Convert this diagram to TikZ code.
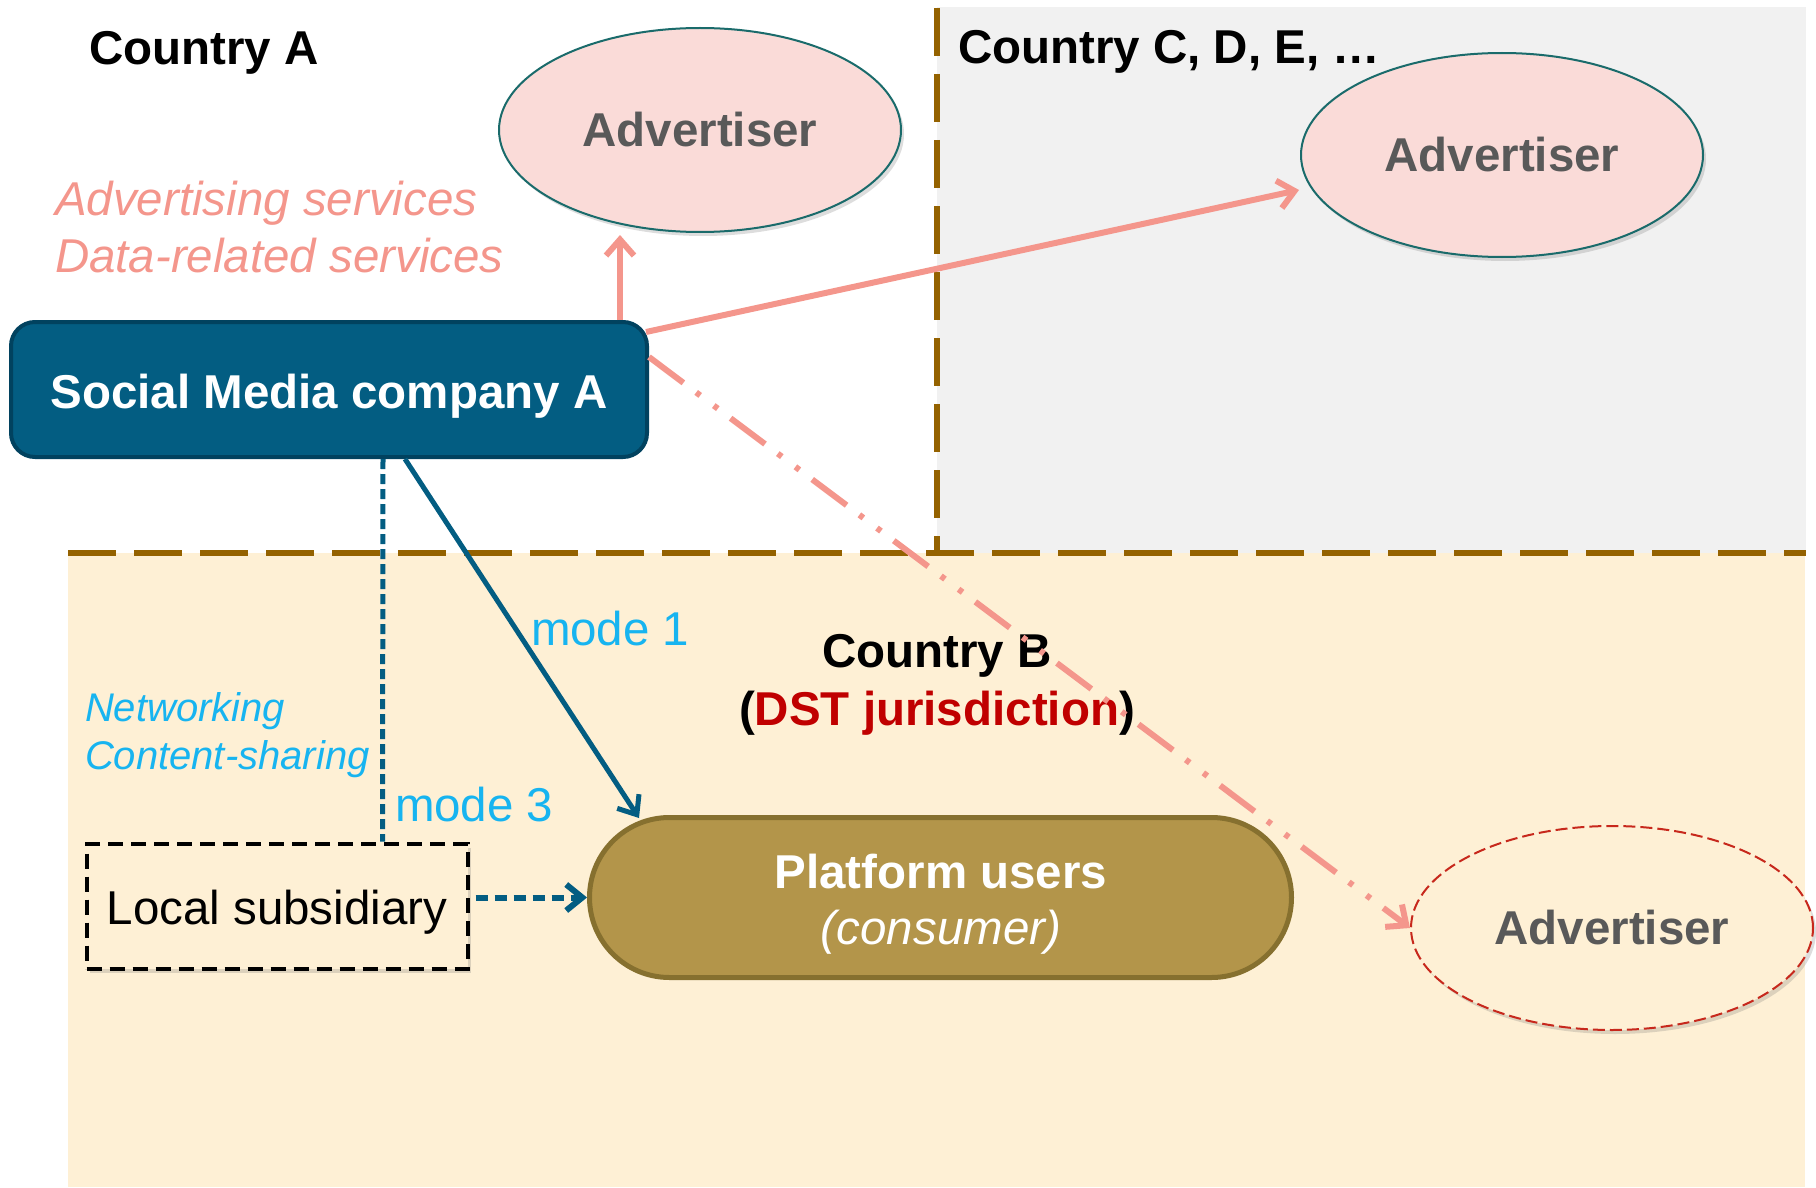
\documentclass[tikz,border=0pt]{standalone}
\usepackage{fontspec}
\setmainfont{Liberation Sans}
\usetikzlibrary{arrows.meta,shapes.geometric,shadows,calc}

\definecolor{greybg}{HTML}{F1F1F1}
\definecolor{beigebg}{HTML}{FEF0D5}
\definecolor{borderbrown}{HTML}{946200}
\definecolor{smblue}{HTML}{035D82}
\definecolor{smedge}{HTML}{01425F}
\definecolor{advpink}{HTML}{FADBD8}
\definecolor{advteal}{HTML}{1A6B6B}
\definecolor{advgrey}{HTML}{595959}
\definecolor{salmon}{HTML}{F4968C}
\definecolor{modecyan}{HTML}{17B4F0}
\definecolor{dstred}{HTML}{C00000}
\definecolor{dashred}{HTML}{C7281C}
\definecolor{pufill}{HTML}{B3954A}
\definecolor{puedge}{HTML}{86702F}

\begin{document}
\begin{tikzpicture}[x=0.5pt,y=-0.5pt,
  bigfont/.style={font=\fontsize{23.75pt}{28.5pt}\selectfont},
  bigbold/.style={font=\fontsize{23.75pt}{28.5pt}\selectfont\bfseries},
  bigital/.style={font=\fontsize{23.75pt}{28.5pt}\selectfont\itshape},
  label/.style={inner sep=0pt, outer sep=0pt},
  softshadow/.style={drop shadow={shadow xshift=1.5pt, shadow yshift=-2pt, opacity=0.22, fill=black!60}},
  frontier/.style={draw=borderbrown, line width=2.75pt, dash pattern=on 24pt off 9pt},
  advnode/.style={ellipse, minimum width=201pt, minimum height=102pt, inner sep=0pt,
    fill=advpink, draw=advteal, line width=1pt, text=advgrey, bigbold, softshadow},
  salmonarrow/.style={draw=salmon, line width=3pt, -{Straight Barb[length=8pt,width=14pt]}},
  bluearrow/.style={draw=smblue, line width=2.5pt, -{Straight Barb[length=8pt,width=13pt]}},
]
\useasboundingbox (0,0) rectangle (1816,1188);

% country regions
\fill[greybg] (937,7) rectangle (1806,553);
\fill[beigebg] (68,553) rectangle (1805,1187);
\draw[frontier] (68,553) -- (1806,553);
\draw[frontier] (937,8) -- (937,553);

% region titles
\node[label, anchor=base west, bigbold] (ctyA) at (89,65) {Country A};
\node[label, anchor=base west, bigbold] (ctyC) at (958,64) {Country C, D, E, …};
\node[label, anchor=base, bigbold] (ctyB) at (937,667) {Country B};
\node[label, anchor=base, bigbold] (dst) at (937,725) {(\textcolor{dstred}{DST jurisdiction})};

% advertisers
\node[advnode] (adv1) at (700,130) {Advertiser};
\node[advnode] (adv2) at (1502,155) {Advertiser};
\node[advnode, fill=beigebg, draw=dashred, dash pattern=on 6pt off 2.5pt] (adv3) at (1612,928) {Advertiser};

% company, users and subsidiary
\node[rectangle, rounded corners=12pt, minimum width=318pt, minimum height=67.5pt,
  fill=smblue, draw=smedge, line width=2pt] (sm) at (329,389.5) {};
\node[label, anchor=base, bigbold, text=white] (smtext) at (329,408) {Social Media company A};

\node[rectangle, rounded corners=40pt, minimum width=351pt, minimum height=80pt,
  fill=pufill, draw=puedge, line width=2.5pt] (pu) at (940.5,897.5) {};
\node[label, anchor=base, bigbold, text=white] (putext) at (941,888) {Platform users};
\node[label, anchor=base, bigital, text=white] (pusub) at (941,944) {(consumer)};

\node[rectangle, minimum width=190.5pt, minimum height=62.5pt, fill=beigebg,
  draw=black, line width=2pt, dash pattern=on 7.5pt off 4pt, softshadow] (loc) at (277,906) {};
\node[label, anchor=base, bigfont] (loctext) at (277,924) {Local subsidiary};

% service labels
\node[label, anchor=base west, bigital, text=salmon] (svc1) at (55,215) {Advertising services};
\node[label, anchor=base west, bigital, text=salmon] (svc2) at (55,272) {Data-related services};
\node[label, anchor=base west, bigfont, text=modecyan] (mode1) at (531,645) {mode 1};
\node[label, anchor=base west, bigfont, text=modecyan] (mode3) at (395,821) {mode 3};
\node[label, anchor=base west, font=\fontsize{20pt}{24pt}\selectfont\itshape, text=modecyan] (net) at (85,721) {Networking};
\node[label, anchor=base west, font=\fontsize{20pt}{24pt}\selectfont\itshape, text=modecyan] (share) at (85,769) {Content-sharing};

% advertising flows
\draw[salmonarrow] ($(sm.north west)+(611,0)$) -- ($(adv1.south)+(-80,2)$);
\draw[salmonarrow] ($(sm.north east)+(-3,12)$) -- ($(adv2.west)+(-1,35)$);
\draw[salmonarrow, dash pattern=on 21.5pt off 8pt on 2.5pt off 8.5pt on 2.5pt off 8pt]
  ($(sm.north east)+(0,37)$) -- (adv3.west);

% supply modes
\draw[bluearrow] ($(sm.south west)+(396,0)$) -- ($(pu.north west)+(52,3)$);
\draw[draw=smblue, line width=2.5pt, dash pattern=on 5pt off 2.5pt]
  ($(sm.south west)+(374,0)$) -- ($(loc.north west)+(298,0)$);
\draw[bluearrow, line width=3pt, dash pattern=on 6pt off 3.5pt]
  ([xshift=3pt]loc.east |- pu.west) -- (pu.west);
\end{tikzpicture}
\end{document}
